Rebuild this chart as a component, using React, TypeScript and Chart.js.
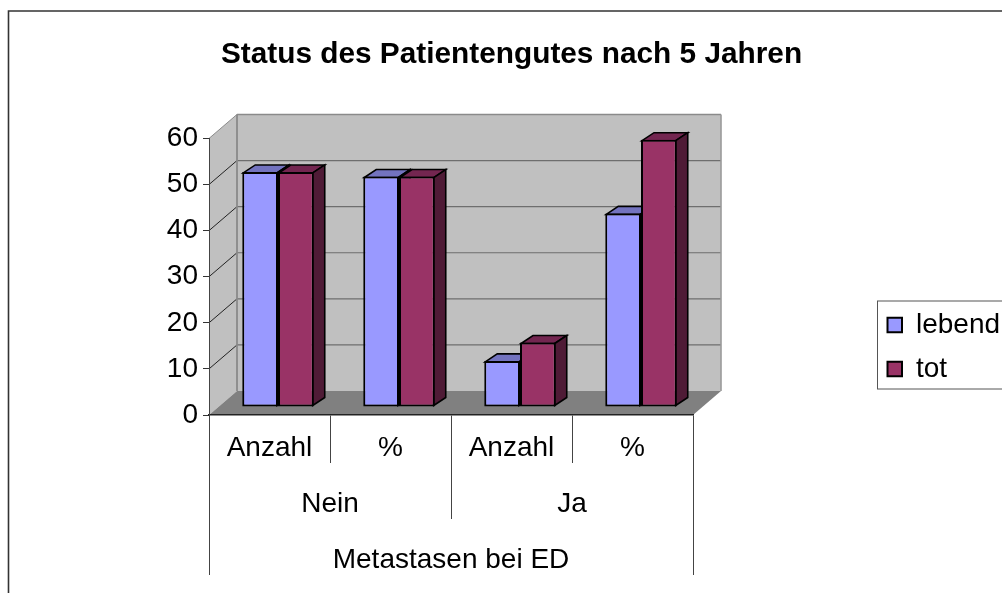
import React, { useEffect, useRef } from "react";
import { Chart, registerables } from "chart.js";

Chart.register(...registerables);

const categories = ["Anzahl", "%", "Anzahl", "%"];
const groupLabels = ["Nein", "Ja"];
const outerLabels = ["Metastasen bei ED"];
const lebendValues = [51, 50, 10, 42];
const totValues = [51, 50, 14, 58];
const valueMax = 60;
const valueStep = 10;
const titleText = "Status des Patientengutes nach 5 Jahren";

const FONT = '"Liberation Sans", Arial, sans-serif';
const TEXT_SIZE = 28;
const DEPTH_X = 28;
const DEPTH_Y = 24;
const BAR_SHIFT_X = 8.5;
const BAR_SHIFT_Y = -8;
const BAR_DEPTH_X = 12;
const BAR_DEPTH_Y = 8;

function poly(ctx: CanvasRenderingContext2D, pts: number[][], fill?: string, stroke?: string, lw = 1) {
  ctx.beginPath();
  pts.forEach(([x, y], i) => (i ? ctx.lineTo(x, y) : ctx.moveTo(x, y)));
  ctx.closePath();
  if (fill) {
    ctx.fillStyle = fill;
    ctx.fill();
  }
  if (stroke) {
    ctx.strokeStyle = stroke;
    ctx.lineWidth = lw;
    ctx.stroke();
  }
}

function line(ctx: CanvasRenderingContext2D, x1: number, y1: number, x2: number, y2: number, color: string, lw: number) {
  ctx.beginPath();
  ctx.moveTo(x1, y1);
  ctx.lineTo(x2, y2);
  ctx.strokeStyle = color;
  ctx.lineWidth = lw;
  ctx.stroke();
}

const scene3d = {
  id: "scene3d",
  afterLayout(chart: any) {
    const l = chart.legend;
    l.left = 871.5;
    l.right = 1010;
    l.top = 295;
    l.bottom = 400;
    l.width = l.right - l.left;
    l.height = l.bottom - l.top;
    const t = chart.titleBlock;
    t.left = 21;
    t.right = 1002;
    t.width = 981;
  },
  beforeDraw(chart: any) {
    const ctx: CanvasRenderingContext2D = chart.ctx;
    const { left, right, top, bottom } = chart.chartArea;
    ctx.save();
    // outer chart frame, open to the right and bottom
    ctx.beginPath();
    ctx.moveTo(8.5, 593);
    ctx.lineTo(8.5, 11);
    ctx.lineTo(1002, 11);
    ctx.strokeStyle = "#333333";
    ctx.lineWidth = 1.6;
    ctx.stroke();
    // legend frame
    ctx.strokeStyle = "#555555";
    ctx.lineWidth = 1;
    ctx.strokeRect(877.5, 301, 140, 88);

    const bx = DEPTH_X;
    const by = DEPTH_Y;
    poly(ctx, [[left + bx, top - by], [right + bx, top - by], [right + bx, bottom - by], [left + bx, bottom - by]], "#C0C0C0");
    poly(ctx, [[left, top], [left + bx, top - by], [left + bx, bottom - by], [left, bottom]], "#C0C0C0");
    poly(ctx, [[left, bottom], [left + bx, bottom - by], [right + bx, bottom - by], [right, bottom]], "#808080");

    const yScale = chart.scales.y;
    yScale.ticks.forEach((t: any) => {
      const y = yScale.getPixelForValue(t.value);
      if (t.value === 0) return;
      const edge = t.value === valueMax;
      line(ctx, left + bx, y - by, right + bx, y - by, edge ? "#8a8a8a" : "#6e6e6e", edge ? 1.6 : 1.2);
      line(ctx, left, y, left + bx, y - by, edge ? "#8a8a8a" : "#222222", 1);
    });
    line(ctx, left + bx, top - by, left + bx, bottom - by, "#8a8a8a", 1.8);
    line(ctx, right + bx, top - by, right + bx, bottom - by, "#9a9a9a", 1.6);
    ctx.restore();
  },
  beforeDatasetsDraw(chart: any) {
    const ctx: CanvasRenderingContext2D = chart.ctx;
    ctx.save();
    ctx.translate(BAR_SHIFT_X, BAR_SHIFT_Y);
    ctx.lineJoin = "miter";
    const tops = ["#7373BF", "#732650"];
    const sides = ["#4D4D80", "#4F1B36"];
    chart.data.datasets.forEach((_: any, i: number) => {
      chart.getDatasetMeta(i).data.forEach((el: any) => {
        const { x, y, base, width } = el.getProps(["x", "y", "base", "width"], true);
        const l = x - width / 2;
        const r = x + width / 2;
        const t = y + 1;
        const b = base - 1;
        const ri = r - 1;
        poly(ctx, [[l + 1, t], [ri, t], [ri + BAR_DEPTH_X, t - BAR_DEPTH_Y], [l + 1 + BAR_DEPTH_X, t - BAR_DEPTH_Y]], tops[i], "#000000", 1.6);
        poly(ctx, [[ri, t], [ri + BAR_DEPTH_X, t - BAR_DEPTH_Y], [ri + BAR_DEPTH_X, b - BAR_DEPTH_Y], [ri, b]], sides[i], "#000000", 1.6);
      });
    });
  },
  afterDatasetsDraw(chart: any) {
    chart.ctx.restore();
  },
};

export default function App() {
  const ref = useRef<HTMLCanvasElement | null>(null);
  useEffect(() => {
    document.body.style.margin = "0";
    const tickFont = { family: FONT, size: TEXT_SIZE };
    const bottomAxis = (labels: string[], weight: number, size: number, pad: number) => ({
      type: "category" as const,
      position: "bottom" as const,
      labels,
      weight,
      offset: true,
      afterFit: (s: any) => {
        s.height = size;
      },
      border: { display: weight === 0, color: "#222222", width: 1.6 },
      grid: { display: true, drawOnChartArea: false, drawTicks: true, tickLength: size, color: "#444444", lineWidth: 1, offset: true },
      ticks: { font: tickFont, color: "#000000", padding: pad, autoSkip: false, maxRotation: 0, minRotation: 0 },
    });
    const chart = new Chart(ref.current!, {
      type: "bar",
      data: {
        labels: categories,
        datasets: [
          { label: "lebend", data: lebendValues, backgroundColor: "#9999FF", borderColor: "#000000", borderWidth: 2, borderSkipped: false, clip: false },
          { label: "tot", data: totValues, backgroundColor: "#993366", borderColor: "#000000", borderWidth: 2, borderSkipped: false, clip: false },
        ] as any,
      },
      options: {
        responsive: false,
        animation: false,
        events: [],
        categoryPercentage: 71.5 / 121,
        barPercentage: 1,
        layout: { padding: { left: 0, right: 309, top: 0, bottom: 18 } },
        scales: {
          x: bottomAxis(categories, 0, 48, -32),
          x2: bottomAxis(groupLabels, 1, 56, -32),
          x3: bottomAxis(outerLabels, 2, 56, -32),
          y: {
            min: 0,
            max: valueMax,
            afterFit: (s: any) => {
              s.width = 209;
            },
            border: { display: true, color: "#444444", width: 1 },
            grid: { display: true, drawOnChartArea: false, tickLength: 6, color: "#333333", lineWidth: 1 },
            ticks: { stepSize: valueStep, font: tickFont, color: "#000000", padding: 5 },
          },
        },
        plugins: {
          title: {
            display: true,
            text: titleText,
            color: "#000000",
            font: { family: FONT, size: 29.8, weight: "bold", lineHeight: 1.2 },
            padding: { top: 36.5, bottom: 66.2 },
          },
          legend: {
            display: true,
            position: "chartArea",
            align: "start",
            labels: {
              font: { family: FONT, size: TEXT_SIZE },
              color: "#000000",
              boxWidth: 14.5,
              boxHeight: 14.5,
              padding: 16,
            },
          },
          tooltip: { enabled: false },
        },
      } as any,
      plugins: [scene3d],
    });
    return () => chart.destroy();
  }, []);
  return <canvas ref={ref} width={1002} height={593} style={{ display: "block" }} />;
}
